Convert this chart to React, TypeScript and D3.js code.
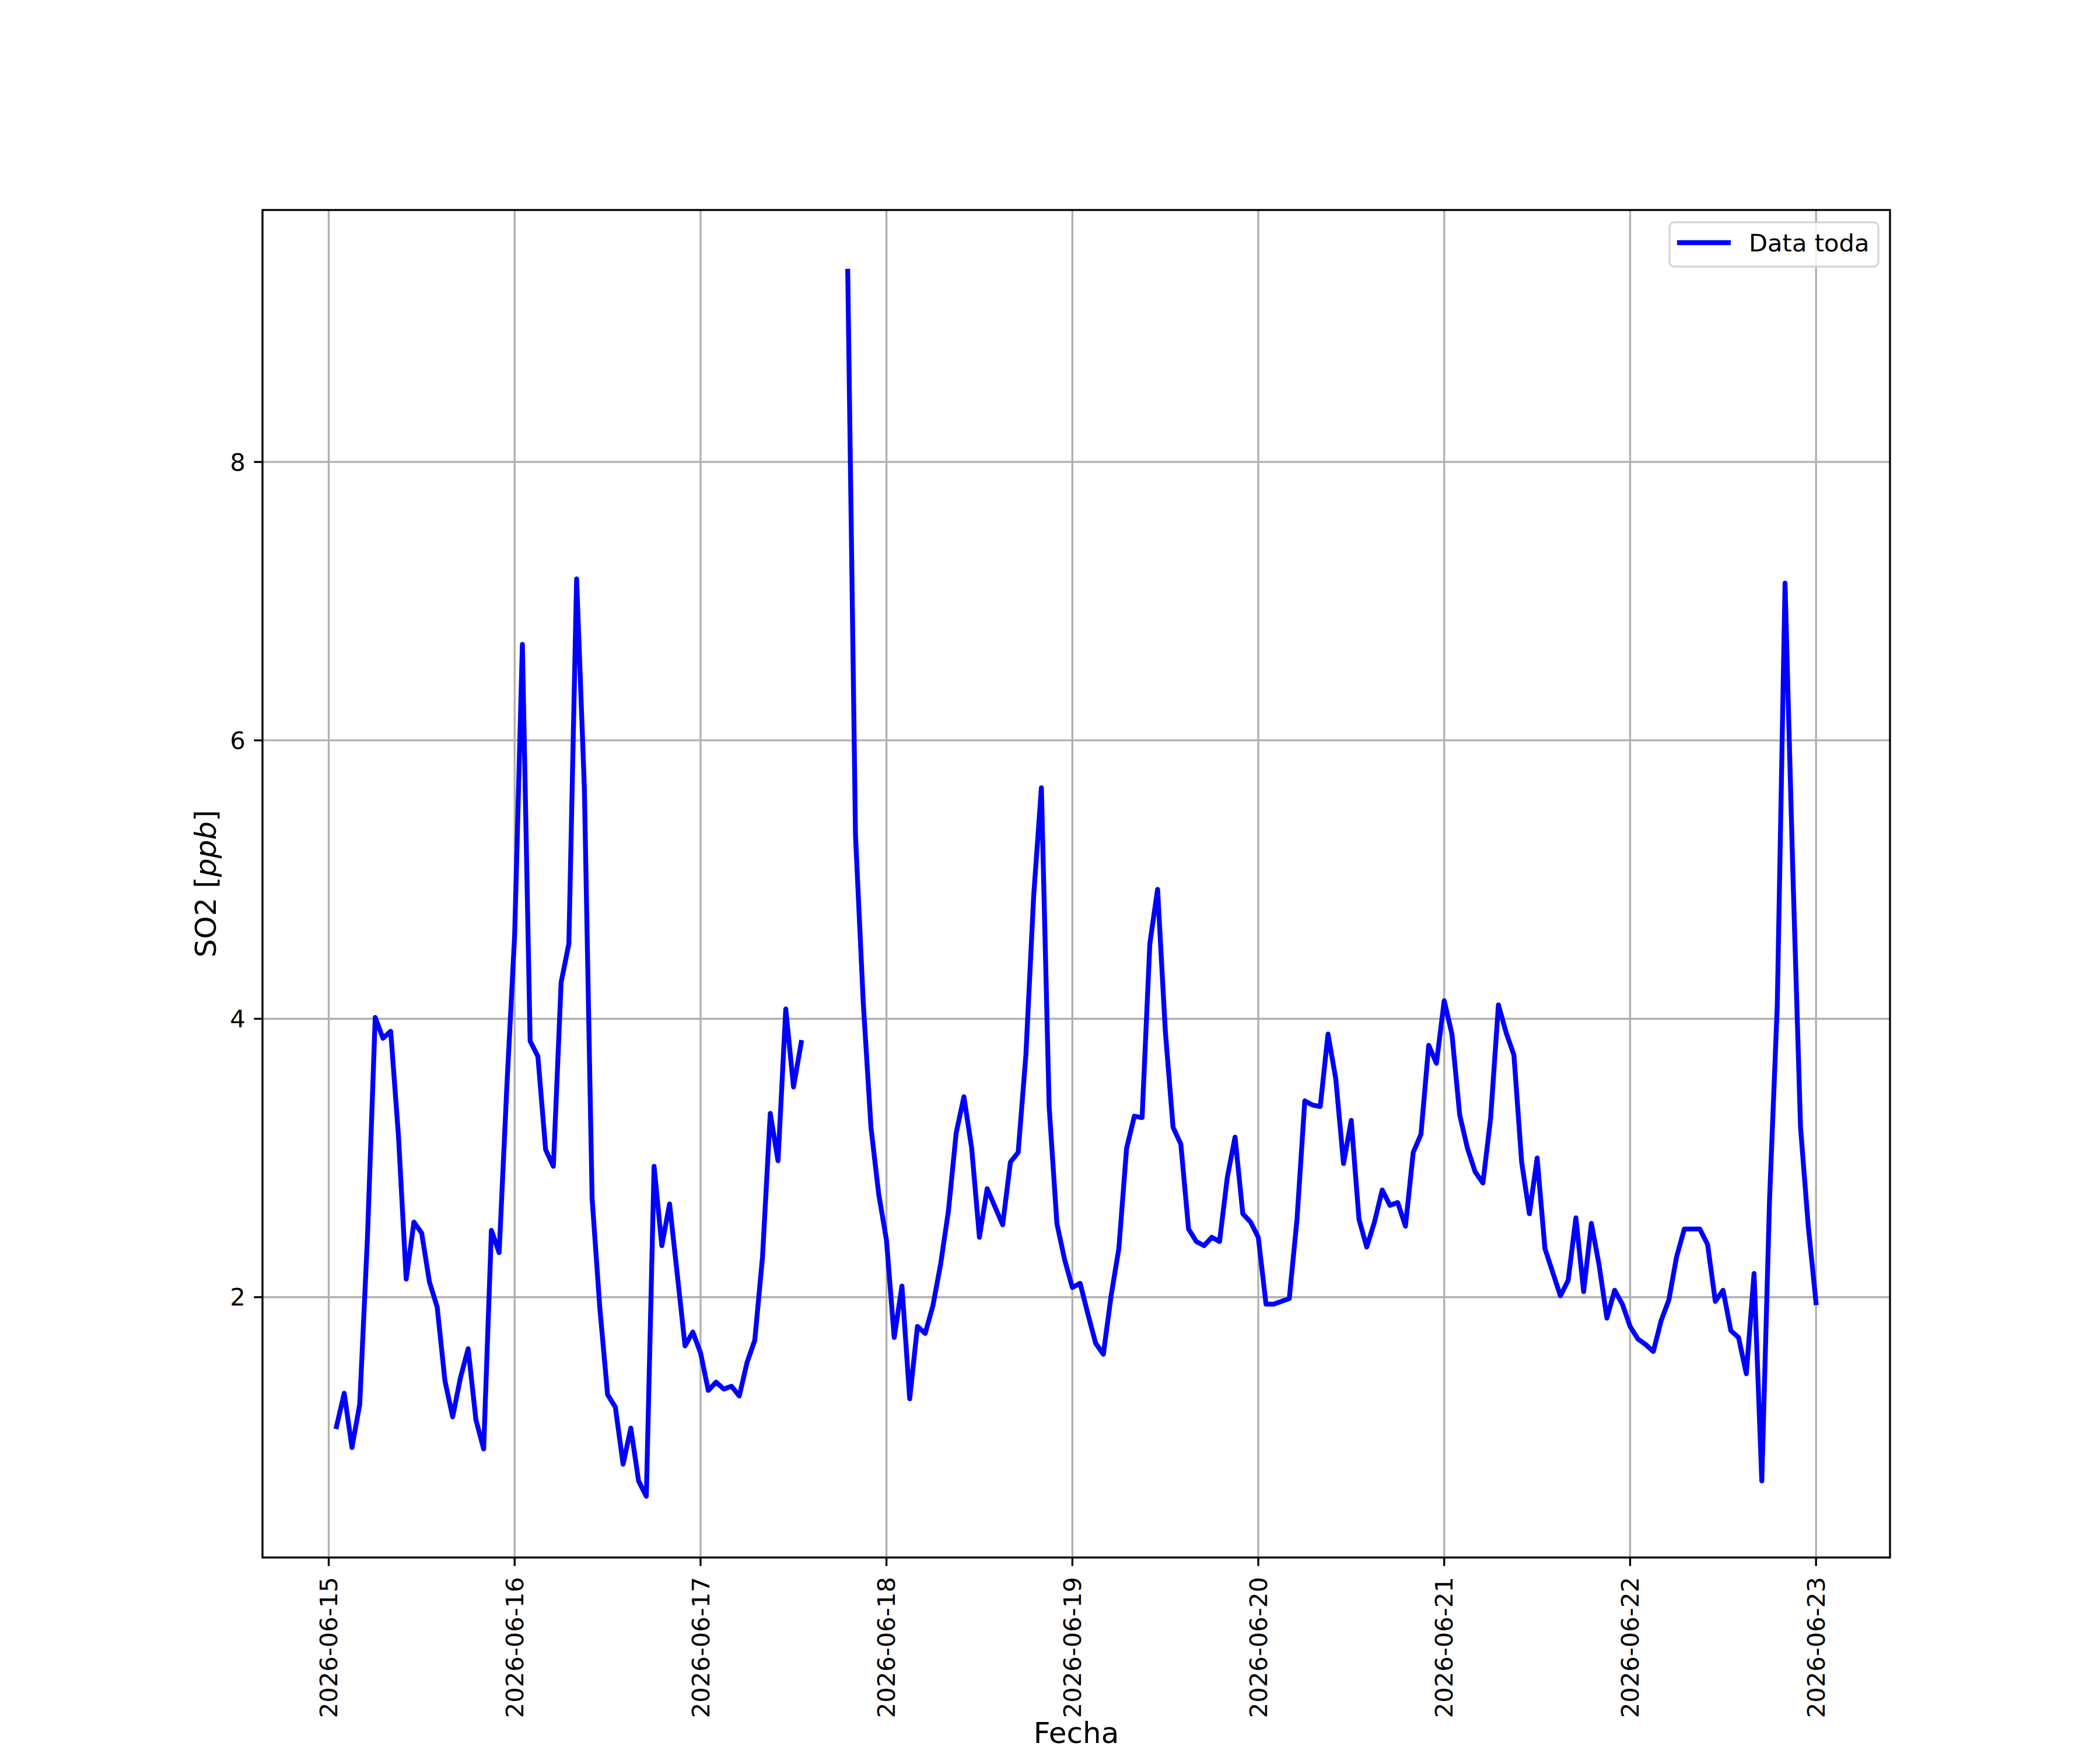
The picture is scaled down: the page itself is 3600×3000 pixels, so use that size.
import React from "react";
import * as d3 from "d3";

// ---- Data (hourly SO2, ppb) ----
const START_UTC = Date.UTC(2026, 5, 15, 1); // first sample: 2026-06-15 01:00
const so2_0615 = [1.07, 1.31, 0.92, 1.23, 2.43, 4.01, 3.86, 3.91, 3.16, 2.13, 2.54, 2.46, 2.11, 1.93, 1.40, 1.14, 1.42, 1.63, 1.12, 0.91, 2.48, 2.32, 3.52];
const so2_0616 = [4.6, 6.69, 3.84, 3.73, 3.06, 2.94, 4.26, 4.54, 7.16, 5.66, 2.71, 1.92, 1.30, 1.21, 0.80, 1.06, 0.68, 0.57, 2.94, 2.37, 2.67, 2.16, 1.65, 1.75];
const so2_0617: (number | null)[] = [1.60, 1.33, 1.39, 1.34, 1.36, 1.29, 1.53, 1.69, 2.29, 3.32, 2.98, 4.07, 3.51, 3.83, null, null, null, null, null, 9.37, 5.32, 4.12, 3.22, 2.74];
const so2_0618 = [2.41, 1.71, 2.08, 1.27, 1.79, 1.74, 1.94, 2.24, 2.62, 3.18, 3.44, 3.07, 2.43, 2.78, 2.65, 2.52, 2.97, 3.04, 3.74, 4.88, 5.66, 3.37, 2.53, 2.27];
const so2_0619 = [2.07, 2.10, 1.88, 1.67, 1.59, 2.01, 2.35, 3.07, 3.30, 3.29, 4.54, 4.93, 3.91, 3.22, 3.10, 2.49, 2.40, 2.37, 2.43, 2.40, 2.86, 3.15, 2.60, 2.54];
const so2_0620 = [2.43, 1.95, 1.95, 1.97, 1.99, 2.56, 3.41, 3.38, 3.37, 3.89, 3.57, 2.96, 3.27, 2.56, 2.36, 2.54, 2.77, 2.66, 2.68, 2.51, 3.04, 3.17, 3.81, 3.68];
const so2_0621 = [4.13, 3.89, 3.31, 3.07, 2.90, 2.82, 3.29, 4.10, 3.90, 3.74, 2.97, 2.60, 3.00, 2.35, 2.18, 2.01, 2.12, 2.57, 2.04, 2.53, 2.23, 1.85, 2.05, 1.95];
const so2_0622 = [1.79, 1.70, 1.66, 1.61, 1.83, 1.98, 2.29, 2.49, 2.49, 2.49, 2.38, 1.97, 2.05, 1.76, 1.71, 1.45, 2.17, 0.68, 2.70, 4.10, 7.13, 5.07, 3.22, 2.51];
const so2_0623 = [1.96];

const dayTicks = ["2026-06-15", "2026-06-16", "2026-06-17", "2026-06-18", "2026-06-19", "2026-06-20", "2026-06-21", "2026-06-22", "2026-06-23"];
const yTicks = [2, 4, 6, 8];
const seriesLabel = "Data toda";
const xLabel = "Fecha";

type P = { t: number; v: number | null };

const W = 3600;
const H = 3000;
const M = { left: 450, right: 3240, top: 360, bottom: 2670 };
const FONT = "'DejaVu Sans', sans-serif";
const TICK_FS = 41.67;
const LABEL_FS = 50;
const LW = 3.33;
const DATA_LW = 8.33;
const TICK_LEN = 14.6;
const PAD = 14.6;

export default function App() {
  const values: (number | null)[] = [
    ...so2_0615, ...so2_0616, ...so2_0617, ...so2_0618,
    ...so2_0619, ...so2_0620, ...so2_0621, ...so2_0622, ...so2_0623,
  ];
  const pts: P[] = values.map((v, i) => ({ t: START_UTC + i * 3600e3, v }));

  const t0 = pts[0].t;
  const t1 = pts[pts.length - 1].t;
  const tp = (t1 - t0) * 0.05;
  const x = d3.scaleUtc().domain([t0 - tp, t1 + tp]).range([M.left, M.right]);

  const [vmin, vmax] = d3.extent(values.filter((v) => v != null) as number[]) as [number, number];
  const vp = (vmax - vmin) * 0.05;
  const y = d3.scaleLinear().domain([vmin - vp, vmax + vp]).range([M.bottom, M.top]);

  const line = d3
    .line<P>()
    .defined((d) => d.v != null)
    .x((d) => x(d.t))
    .y((d) => y(d.v as number));

  const tickDates = dayTicks.map((s) => {
    const [yy, mm, dd] = s.split("-").map(Number);
    return { label: s, t: Date.UTC(yy, mm - 1, dd) };
  });

  const legX0 = 2862, legY0 = 381, legW = 358, legH = 76;

  return (
    <div style={{ position: "absolute", left: 0, top: 0 }}>
      <svg width={W} height={H} viewBox={`0 0 ${W} ${H}`} style={{ display: "block", background: "#fff" }} fontFamily={FONT}>
        <rect x={0} y={0} width={W} height={H} fill="#fff" />
        {/* grid */}
        <g stroke="#b0b0b0" strokeWidth={LW}>
          {tickDates.map((d) => (
            <line key={d.label} x1={x(d.t)} x2={x(d.t)} y1={M.top} y2={M.bottom} />
          ))}
          {yTicks.map((v) => (
            <line key={v} x1={M.left} x2={M.right} y1={y(v)} y2={y(v)} />
          ))}
        </g>
        {/* data line */}
        <path d={line(pts) || ""} fill="none" stroke="#0000ff" strokeWidth={DATA_LW} strokeLinejoin="round" strokeLinecap="square" />
        {/* spines */}
        <rect x={M.left} y={M.top} width={M.right - M.left} height={M.bottom - M.top} fill="none" stroke="#000" strokeWidth={LW} />
        {/* x ticks */}
        <g>
          {tickDates.map((d) => (
            <g key={d.label}>
              <line x1={x(d.t)} x2={x(d.t)} y1={M.bottom} y2={M.bottom + TICK_LEN} stroke="#000" strokeWidth={LW} />
              <text
                transform={`translate(${x(d.t)},${M.bottom + TICK_LEN + PAD + 4}) rotate(-90)`}
                textAnchor="end"
                dy="0.35em"
                fontSize={TICK_FS}
                fill="#000"
              >
                {d.label}
              </text>
            </g>
          ))}
        </g>
        {/* y ticks */}
        <g>
          {yTicks.map((v) => (
            <g key={v}>
              <line x1={M.left - TICK_LEN} x2={M.left} y1={y(v)} y2={y(v)} stroke="#000" strokeWidth={LW} />
              <text x={M.left - TICK_LEN - PAD} y={y(v)} dy="0.35em" textAnchor="end" fontSize={TICK_FS} fill="#000">
                {v}
              </text>
            </g>
          ))}
        </g>
        {/* axis labels */}
        <text x={(M.left + M.right) / 2} y={2988} textAnchor="middle" fontSize={LABEL_FS} fill="#000">
          {xLabel}
        </text>
        <text transform={`translate(370,${(M.top + M.bottom) / 2}) rotate(-90)`} textAnchor="middle" fontSize={LABEL_FS} fill="#000">
          SO2 [<tspan fontStyle="italic">ppb</tspan>]
        </text>
        {/* legend */}
        <g>
          <rect x={legX0} y={legY0} width={legW} height={legH} rx={8} ry={8} fill="#fff" fillOpacity={0.8} stroke="#cccccc" strokeOpacity={0.8} strokeWidth={LW} />
          <line x1={2875} x2={2967} y1={416} y2={416} stroke="#0000ff" strokeWidth={DATA_LW} strokeLinecap="butt" />
          <text x={2998} y={416} dy="0.36em" fontSize={TICK_FS} fill="#000">
            {seriesLabel}
          </text>
        </g>
      </svg>
    </div>
  );
}
